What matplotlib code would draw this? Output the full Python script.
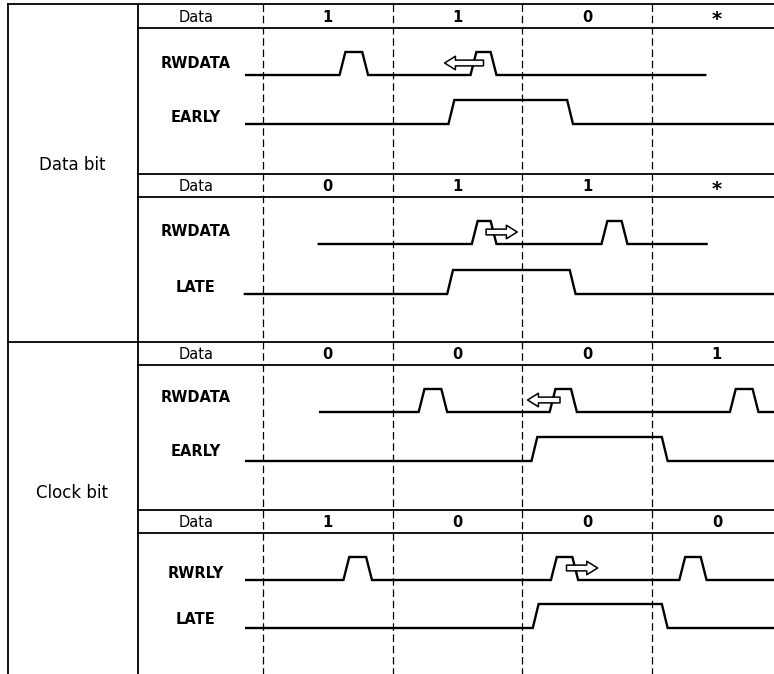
import matplotlib.pyplot as plt

# time runs in bit cells: dashed cell borders sit at 0, 1, 2, 3
cell_borders = [0, 1, 2, 3]
cell_centres = [0.5, 1.5, 2.5, 3.5]

section_names = ['Data bit', 'Clock bit']
data_values = [['1', '1', '0', '*'],
               ['0', '1', '1', '*'],
               ['0', '0', '0', '1'],
               ['1', '0', '0', '0']]
read_names = ['RWDATA', 'RWDATA', 'RWDATA', 'RWRLY']
window_names = ['EARLY', 'LATE', 'EARLY', 'LATE']

# read line (start, end) and its pulses (rise, fall), in cells
read_span = [(-0.13, 3.41), (0.43, 3.42), (0.44, 3.94), (-0.13, 3.94)]
read_pulses = [[(0.59, 0.81), (1.60, 1.80)],
               [(1.61, 1.80), (2.61, 2.81)],
               [(1.20, 1.42), (2.21, 2.42), (3.60, 3.82)],
               [(0.62, 0.84), (2.22, 2.43), (3.21, 3.42)]]
# EARLY / LATE window: line start, end and the high part
window_span = [(-0.13, 3.94), (-0.14, 3.94), (-0.13, 3.94), (-0.13, 3.94)]
window_high = [(1.43, 2.39), (1.42, 2.41), (2.07, 3.12), (2.08, 3.12)]
# shift arrows (tail, tip)
shift_arrows = [(1.70, 1.40), (1.72, 1.96), (2.29, 2.04), (2.34, 2.58)]

# layout (y in pixels from the top, x in cells)
block_top = [4, 174, 342, 510]
block_data_bottom = [28, 197, 365, 533]
read_base = [75, 244, 412, 580]
read_label_y = [63, 232, 398, 573]
window_base = [124, 294, 461, 628]
window_label_y = [117, 288, 452, 620]
section_label_y = [165, 493]

LEFT = -1.966
COLDIV = -0.964
LABEL_X = -0.517
SECTION_X = -1.473
RIGHT = 3.94
EDGE = 0.045


def waveform(span, highs, base, height):
    xs = [span[0]]
    ys = [base]
    for a, b in highs:
        xs += [a, a + EDGE, b - EDGE, b]
        ys += [base, base - height, base - height, base]
    xs.append(span[1])
    ys.append(base)
    return xs, ys


fig = plt.figure(figsize=(7.74, 6.74), dpi=100)
ax = fig.add_axes([0, 0, 1, 1])
ax.set_xlim(-2.028, RIGHT)
ax.set_ylim(674, 0)
ax.axis('off')

tlw = 1.3
slw = 1.7

# frame
ax.plot([LEFT, LEFT], [4, 674], color='black', lw=tlw)
ax.plot([COLDIV, COLDIV], [4, 674], color='black', lw=tlw)
for i in range(4):
    x0 = LEFT if i in (0, 2) else COLDIV
    ax.plot([x0, RIGHT], [block_top[i], block_top[i]], color='black', lw=tlw)
    ax.plot([COLDIV, RIGHT], [block_data_bottom[i], block_data_bottom[i]],
            color='black', lw=tlw)

for xb in cell_borders:
    ax.plot([xb, xb], [4, 674], color='black', lw=0.9,
            dashes=(6, 3))

for s, name in enumerate(section_names):
    ax.text(SECTION_X, section_label_y[s], name, ha='center', va='center',
            fontsize=12)

for i in range(4):
    ymid = (block_top[i] + block_data_bottom[i]) / 2
    ax.text(LABEL_X, ymid + 1, 'Data', ha='center', va='center', fontsize=10.5)
    for xc, v in zip(cell_centres, data_values[i]):
        if v == '*':
            ax.text(xc, ymid + 4, v, ha='center', va='center', fontsize=14,
                    fontweight='bold')
        else:
            ax.text(xc, ymid + 1, v, ha='center', va='center', fontsize=10.5,
                    fontweight='bold')

    ax.text(LABEL_X, read_label_y[i], read_names[i], ha='center', va='center',
            fontsize=10.5, fontweight='bold')
    ax.text(LABEL_X, window_label_y[i], window_names[i], ha='center',
            va='center', fontsize=10.5, fontweight='bold')

    xs, ys = waveform(read_span[i], read_pulses[i], read_base[i], 23)
    ax.plot(xs, ys, color='black', lw=slw, solid_joinstyle='miter')
    xs, ys = waveform(window_span[i], [window_high[i]], window_base[i], 24)
    ax.plot(xs, ys, color='black', lw=slw, solid_joinstyle='miter')

    tail, tip = shift_arrows[i]
    ya = read_base[i] - 12
    ax.annotate('', xy=(tip, ya), xytext=(tail, ya),
                arrowprops=dict(arrowstyle='simple,head_length=0.6,'
                                'head_width=0.75,tail_width=0.32',
                                mutation_scale=13, fc='white', ec='black',
                                lw=1.1, shrinkA=0, shrinkB=0), zorder=5)

fig.savefig('out.png', dpi=100)
